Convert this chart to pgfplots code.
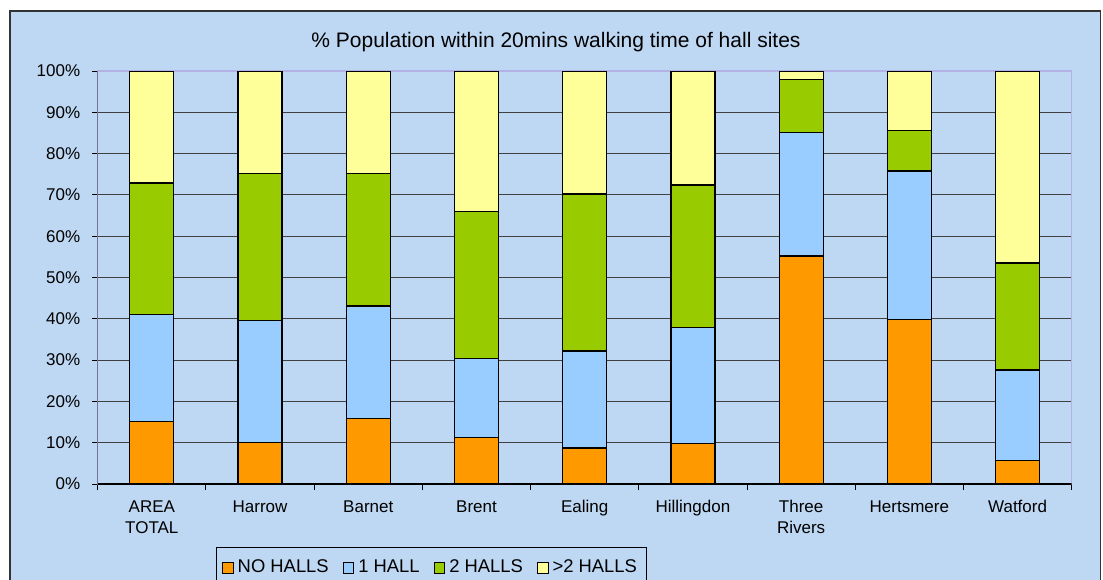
\documentclass[border=0pt]{standalone}
\usepackage{fontspec}
\setmainfont{Liberation Sans}
\usepackage{pgfplots}
\pgfplotsset{compat=1.18}
\definecolor{bgblue}{RGB}{190,215,242}
\definecolor{cnone}{RGB}{255,153,0}
\definecolor{cone}{RGB}{153,204,255}
\definecolor{ctwo}{RGB}{153,204,0}
\definecolor{cmore}{RGB}{255,255,153}
\definecolor{lav}{RGB}{178,178,230}
\begin{document}
\begin{tikzpicture}
\useasboundingbox (0,0) rectangle (551.5pt,289.5pt);
\clip (0,0) rectangle (551.5pt,289.5pt);
\fill[white] (0,0) rectangle (551.5pt,289.5pt);
\draw[fill=bgblue, draw=black!80, line width=0.75pt] (5pt,-5pt) rectangle (550.35pt,284pt);
\node[anchor=base, inner sep=0pt, font=\fontsize{10.5}{12}\selectfont] at (278pt,265.65pt) {\% Population within 20mins walking time of hall sites};
\begin{axis}[
  at={(48.85pt,47.5pt)}, anchor=south west,
  scale only axis, width=487pt, height=206.5pt,
  ybar stacked, bar width=22pt,
  xmin=-0.5, xmax=8.5, ymin=0, ymax=100,
  /pgf/number format/assume math mode=true,
  xtick={-0.5,0.5,...,8.5}, xticklabels={},
  extra x ticks={0,1,...,8},
  extra x tick labels={\strut AREA\\TOTAL, \strut Harrow, \strut Barnet, \strut Brent, \strut Ealing, \strut Hillingdon, \strut Three\\Rivers, \strut Hertsmere, \strut Watford},
  extra x tick style={major tick length=0pt, grid=none},
  xticklabel style={align=center, font=\fontsize{8.5}{10.85}\selectfont, yshift=-3pt},
  ytick={0,10,...,100},
  yticklabels={0\%,10\%,20\%,30\%,40\%,50\%,60\%,70\%,80\%,90\%,100\%},
  yticklabel style={font=\fontsize{8.5}{10.85}\selectfont, xshift=-2.5pt},
  xtick pos=bottom, ytick pos=left, tick align=outside,
  major tick length=2.75pt,
  tick style={black, line width=0.5pt},
  ymajorgrids, grid style={black!75, line width=0.5pt},
  axis line style={lav, line width=0.75pt},
  legend style={at={(0.1211,-0.1533)}, anchor=north west, draw=black, line width=0.5pt, fill=bgblue,
    font=\fontsize{9.2}{11}\selectfont, legend columns=-1,
    /tikz/every even column/.append style={column sep=5pt}, inner xsep=3pt, inner ysep=4pt},
  legend image code/.code={\draw[#1, draw=black, line width=0.5pt] (0pt,-2.65pt) rectangle (5.3pt,2.65pt);},
]
\addplot[fill=cnone, draw=black, line width=0.6pt] coordinates {(0,15.1) (1,10.1) (2,15.9) (3,11.3) (4,8.7) (5,9.8) (6,55.2) (7,39.9) (8,5.6)};
\addlegendentry{NO HALLS}
\addplot[fill=cone, draw=black, line width=0.6pt] coordinates {(0,25.9) (1,29.5) (2,27.2) (3,19.1) (4,23.5) (5,28.0) (6,29.9) (7,35.9) (8,22.0)};
\addlegendentry{1 HALL}
\addplot[fill=ctwo, draw=black, line width=0.6pt] coordinates {(0,31.9) (1,35.5) (2,32.0) (3,35.5) (4,38.0) (5,34.6) (6,12.8) (7,9.7) (8,25.9)};
\addlegendentry{2 HALLS}
\addplot[fill=cmore, draw=black, line width=0.6pt] coordinates {(0,27.1) (1,24.9) (2,24.9) (3,34.1) (4,29.8) (5,27.6) (6,2.1) (7,14.5) (8,46.5)};
\addlegendentry{>2 HALLS}
\draw[black, line width=0.6pt] (rel axis cs:0,1) -- (rel axis cs:0,0) -- (rel axis cs:1,0);
\end{axis}
\end{tikzpicture}
\end{document}
